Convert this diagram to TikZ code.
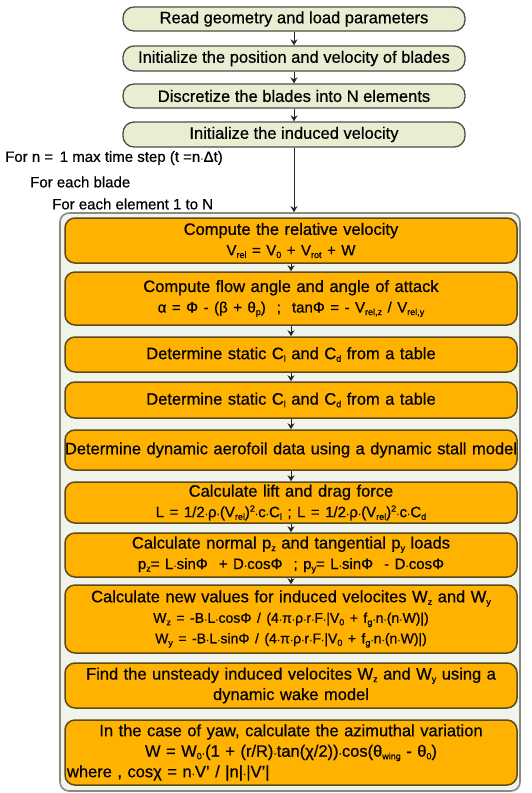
\documentclass[tikz,border=0pt]{standalone}
\usepackage{fontspec}
\setmainfont{Liberation Sans}[FakeBold=0.6]
\usetikzlibrary{arrows.meta}

\definecolor{initfill}{HTML}{E9EDD2}
\definecolor{initdraw}{HTML}{4E4E46}
\definecolor{loopfill}{HTML}{F1F4EA}
\definecolor{loopdraw}{HTML}{8A8C84}
\definecolor{stepfill}{HTML}{FFB300}
\definecolor{stepdraw}{HTML}{5C4A1C}

\tikzset{
  x=1pt, y=1pt,
  initbox/.style={draw=initdraw, fill=initfill, line width=1.3pt,
    rounded corners=11pt, minimum width=342pt, inner sep=0pt,
    font=\fontsize{16.5}{20}\selectfont},
  calcbox/.style={draw=stepdraw, fill=stepfill, line width=1.5pt,
    rounded corners=10pt, minimum width=452pt, text width=448pt,
    align=center, inner sep=0pt, font=\fontsize{16.5}{20.5}\selectfont},
  loopbox/.style={draw=loopdraw, fill=loopfill, line width=1.6pt,
    rounded corners=9pt, inner sep=0pt},
  looptext/.style={anchor=west, inner sep=0pt, font=\fontsize{15}{18}\selectfont},
  flow/.style={draw=black!85, line width=1pt, -{Stealth[length=6pt,width=7pt]}}
}

% small indices and a compact multiplication dot for the formulas
\newcommand{\sbs}[1]{\raisebox{-2.6pt}{\fontsize{9}{9}\selectfont #1}}
\newcommand{\sps}[1]{\raisebox{5.5pt}{\fontsize{9}{9}\selectfont #1}}
\newcommand{\md}{{\fontsize{10}{10}\selectfont ·}}
\newcommand{\fml}{\fontsize{15}{20.5}\selectfont}
\newcommand{\fms}{\fontsize{14}{20.5}\selectfont}

\begin{document}
\begin{tikzpicture}
\useasboundingbox (0,0) rectangle (531,-793);

% preparation steps
\node[initbox, minimum height=24pt] (read)  at (294,-19)   {Read geometry and load parameters};
\node[initbox, minimum height=25pt] (pos)   at (294,-58.5) {Initialize the position and velocity of blades};
\node[initbox, minimum height=24pt] (disc)  at (294,-96)   {Discretize the blades into N elements};
\node[initbox, minimum height=25pt] (indu)  at (294,-134.5){Initialize the induced velocity};

\draw[flow] (read) -- (pos);
\draw[flow] (pos) -- (disc);
\draw[flow] (disc) -- (indu);

% nested loops
\node[looptext] (loopn) at (5,-158)  {For n =\,\ 1 max time step (t =n\md Δt)};
\node[looptext] (loopb) at (30,-182) {For each blade};
\node[looptext] (loope) at (52,-204) {For each element 1 to N};

\node[loopbox, minimum width=460pt, minimum height=578pt] (loop) at (290,-502) {};
\coordinate (entry) at (indu.south |- loop.north);
\draw[flow] (indu.south) -- (entry);

% per-element computation
\node[calcbox, minimum height=45pt] (relv) at (291,-240.5)
  {Compute the relative velocity\\
   {\fml V\sbs{rel} = V\sbs{0} + V\sbs{rot} + W}};
\node[calcbox, minimum height=53pt] (flow) at (291,-298.5)
  {Compute flow angle and angle of attack\\
   {\fml α = Φ - (β + θ\sbs{p})\ \ ;\ \ tanΦ = - V\sbs{rel,z} / V\sbs{rel,y}}};
\node[calcbox, minimum height=35pt] (stat1) at (291,-354.5)
  {Determine static C\sbs{l} and C\sbs{d} from a table};
\node[calcbox, minimum height=36pt] (stat2) at (291,-400)
  {Determine static C\sbs{l} and C\sbs{d} from a table};
\node[calcbox, minimum height=40pt] (dyn) at (291,-450)
  {\makebox[448pt][c]{Determine dynamic aerofoil data using a dynamic stall model}};
\node[calcbox, minimum height=41pt] (lift) at (291,-502.5)
  {Calculate lift and drag force\\
   {\fml L = 1/2\md ρ\md (V\sbs{rel})\sps{2}\md c\md C\sbs{l}\ ;\ L = 1/2\md ρ\md (V\sbs{rel})\sps{2}\md c\md C\sbs{d}}};
\node[calcbox, minimum height=44pt] (load) at (291,-555)
  {Calculate normal p\sbs{z} and tangential p\sbs{y} loads\\
   {\fml p\sbs{z}= L\md sinΦ\ \ + D\md cosΦ\ \ ;\ p\sbs{y}= L\md sinΦ\ \ - D\md cosΦ}};
\node[calcbox, minimum height=68pt] (neww) at (291,-619)
  {Calculate new values for induced velocites W\sbs{z} and W\sbs{y}\\
   {\fms W\sbs{z} = -B\md L\md cosΦ / (4\md π\md ρ\md r\md F\md |V\sbs{0} + f\sbs{g}\md n\md (n\md W)|)}\\
   {\fms W\sbs{y} = -B\md L\md sinΦ / (4\md π\md ρ\md r\md F\md |V\sbs{0} + f\sbs{g}\md n\md (n\md W)|)}};
\node[calcbox, minimum height=45pt] (wake) at (291,-685.5)
  {Find the unsteady induced velocites W\sbs{z} and W\sbs{y} using a\\
   dynamic wake model};
\node[calcbox, minimum height=65pt] (yaw) at (291,-752.5)
  {In the case of yaw, calculate the azimuthal variation\\
   W = W\sbs{0}\md (1 + (r/R)\md tan(χ/2))\md cos(θ\sbs{wing} - θ\sbs{0})\\
   \makebox[448pt][l]{where , cosχ = n\md V' / |n|\md |V'|}};

\draw[flow] (relv) -- (flow);
\draw[flow] (flow) -- (stat1);
\draw[flow] (stat1) -- (stat2);
\draw[flow] (stat2) -- (dyn);
\draw[flow] (dyn) -- (lift);
\draw[flow] (lift) -- (load);
\draw[flow] (load) -- (neww);
\end{tikzpicture}
\end{document}
